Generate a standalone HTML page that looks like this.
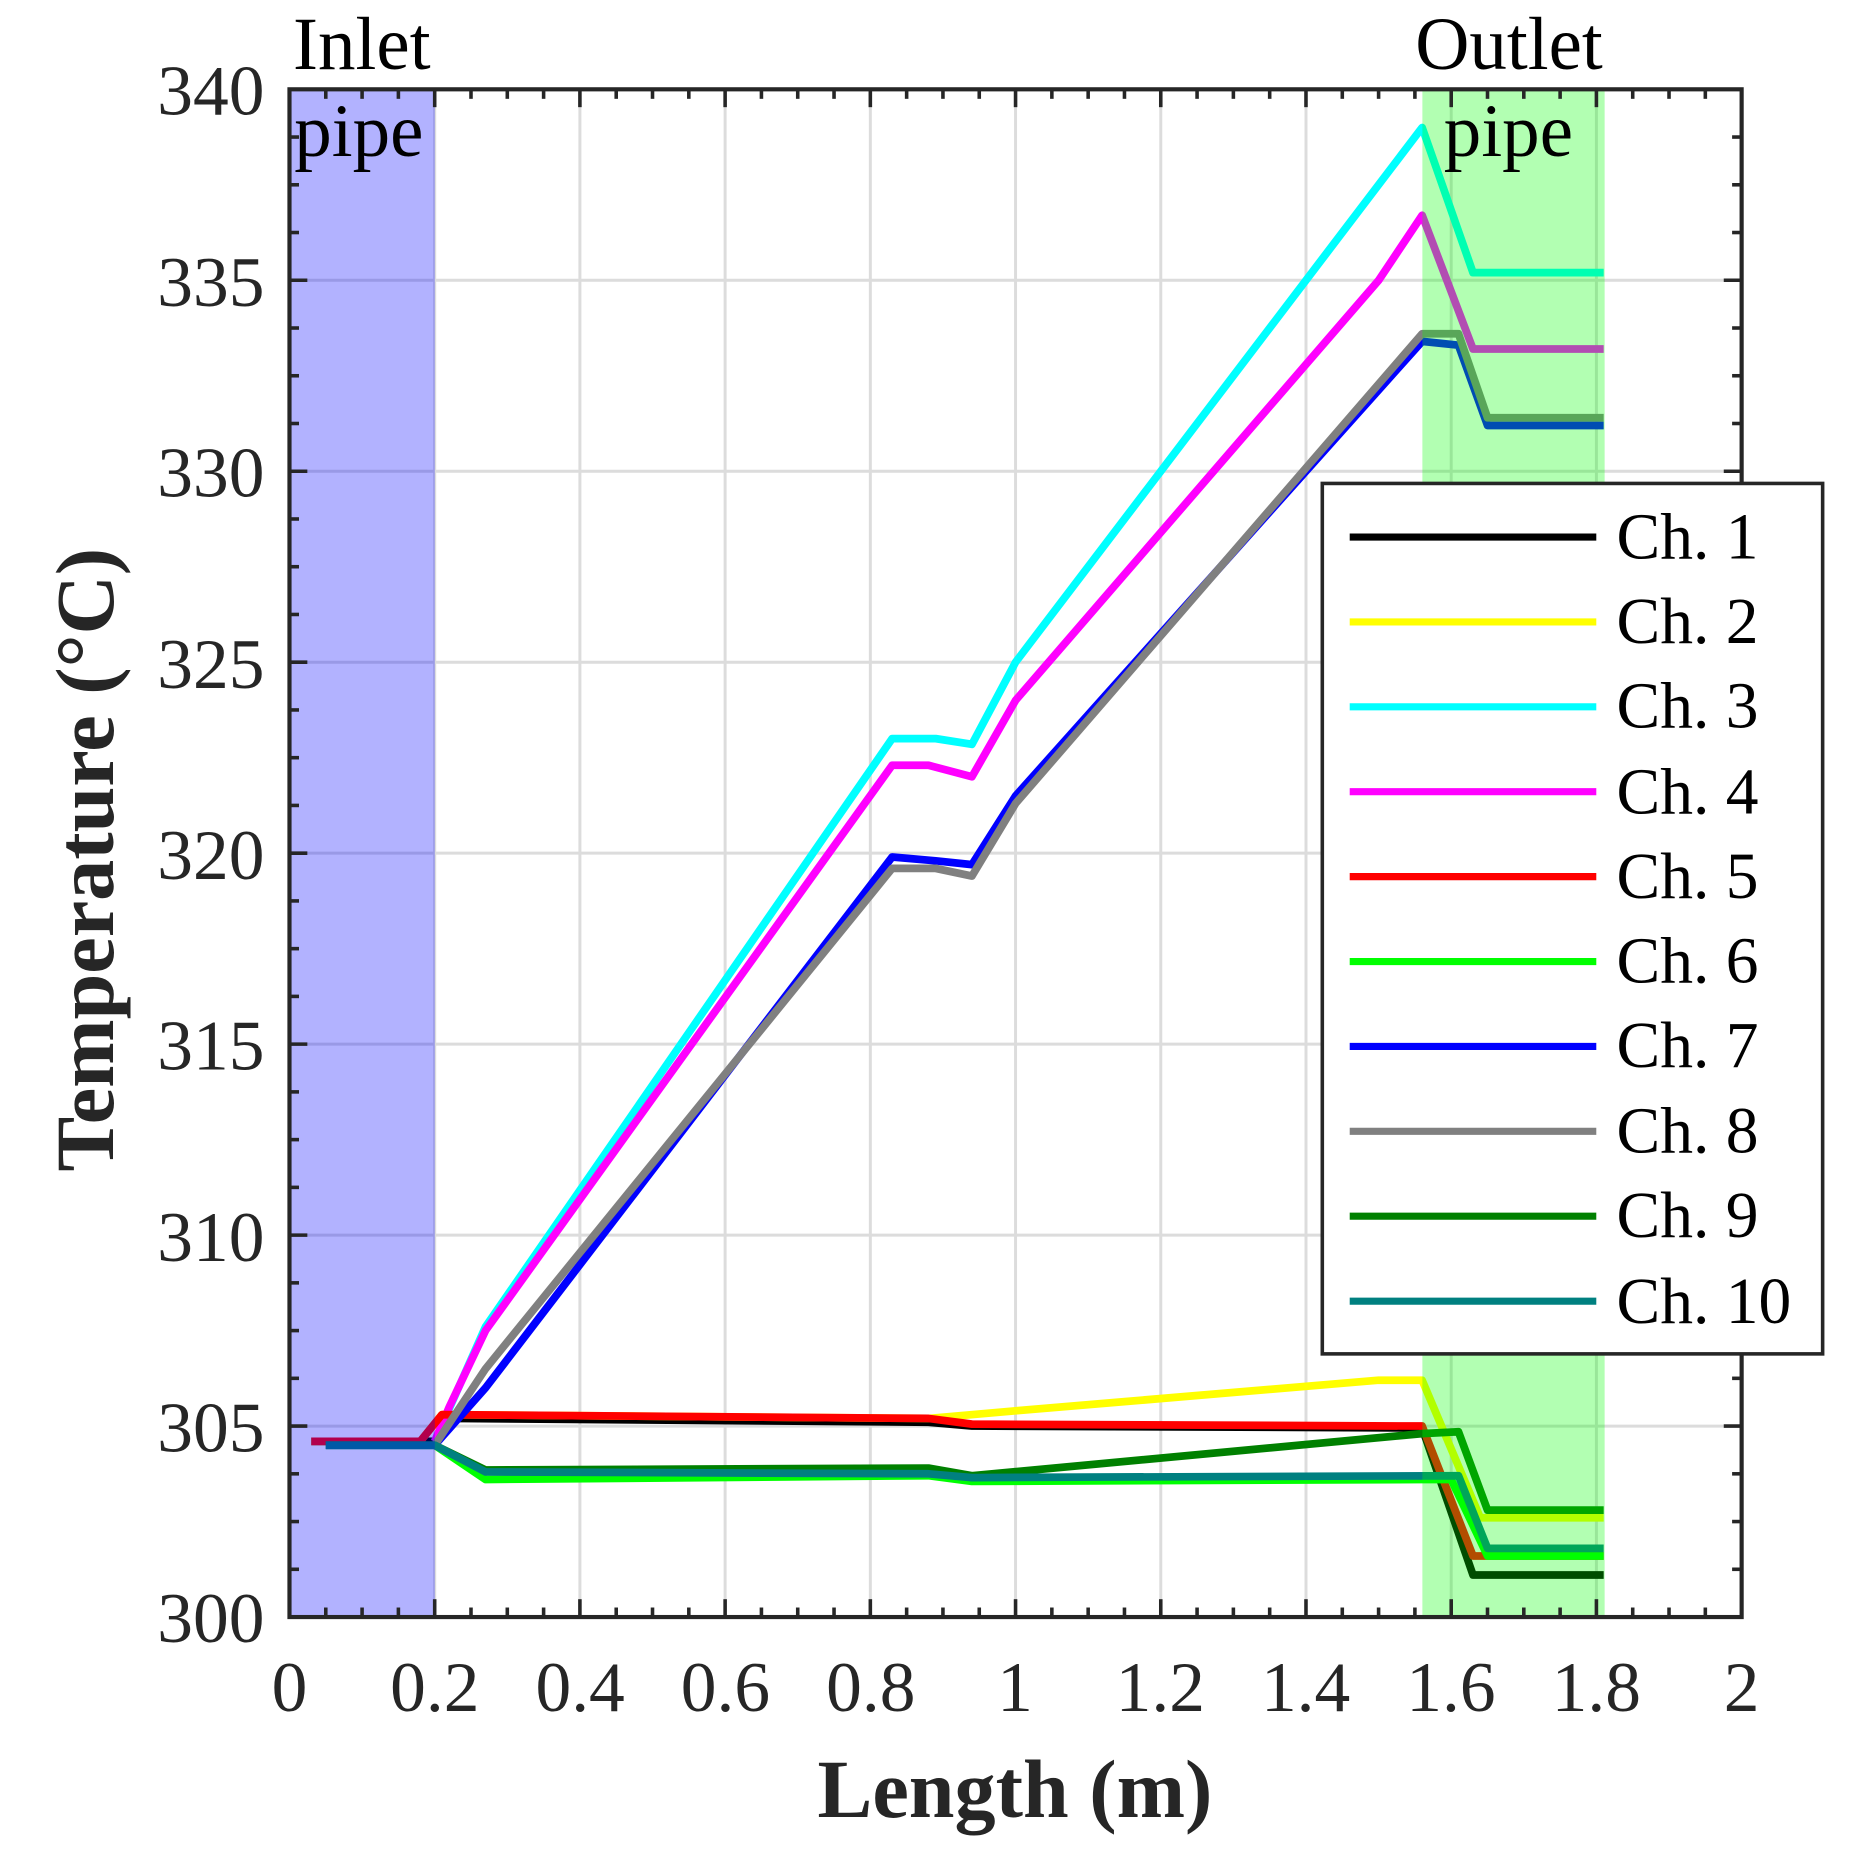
<!DOCTYPE html>
<html><head><meta charset="utf-8"><style>
html,body{margin:0;padding:0;background:#fff;}
svg{display:block;}
text{font-family:"Liberation Serif","Times New Roman",serif;fill:#262626;}
</style></head><body>
<svg id="s" width="1866" height="1849" viewBox="0 0 1566.4 1552.8" preserveAspectRatio="none" xmlns="http://www.w3.org/2000/svg">
<rect x="0" y="0" width="1570" height="1560" fill="#fff"/>
<g id="grid" stroke="#dcdcdc" stroke-width="2.5"></g>
<g id="lines" fill="none" stroke-width="6.5" stroke-linejoin="round"></g>
<rect x="243" y="75" width="122" height="1283" fill="rgb(0,0,255)" fill-opacity="0.3"/>
<rect x="1194" y="75" width="153" height="1283" fill="rgb(0,255,0)" fill-opacity="0.3"/>
<g id="ticks" stroke="#262626" stroke-width="3"></g>
<rect x="243" y="75" width="1219" height="1283" fill="none" stroke="#262626" stroke-width="3.5"/>
<g font-size="60" text-anchor="end">
<text x="222" y="96">340</text><text x="222" y="257">335</text><text x="222" y="417">330</text><text x="222" y="578">325</text><text x="222" y="738">320</text><text x="222" y="898">315</text><text x="222" y="1059">310</text><text x="222" y="1219">305</text><text x="222" y="1379">300</text>
</g>
<g font-size="60" text-anchor="middle">
<text x="243" y="1437">0</text><text x="365" y="1437">0.2</text><text x="487" y="1437">0.4</text><text x="609" y="1437">0.6</text><text x="731" y="1437">0.8</text><text x="852" y="1437">1</text><text x="974" y="1437">1.2</text><text x="1096" y="1437">1.4</text><text x="1218" y="1437">1.6</text><text x="1340" y="1437">1.8</text><text x="1462" y="1437">2</text>
</g>
<text x="852" y="1526" font-size="69" font-weight="bold" text-anchor="middle">Length (m)</text>
<text transform="translate(95,722) rotate(-90)" font-size="69" font-weight="bold" text-anchor="middle">Temperature (°C)</text>
<g font-size="63" style="fill:#000">
<text x="246" y="58" style="fill:#000">Inlet</text>
<text x="247" y="131" style="fill:#000">pipe</text>
<text x="1188" y="58" style="fill:#000">Outlet</text>
<text x="1212" y="131" style="fill:#000">pipe</text>
</g>
<rect x="1110" y="406" width="420" height="731" fill="#fff" stroke="#262626" stroke-width="3"/>
<g id="leg" stroke-width="6"></g>
<g font-size="55" style="fill:#000">
<text x="1357" y="469" style="fill:#000">Ch. 1</text>
<text x="1357" y="540" style="fill:#000">Ch. 2</text>
<text x="1357" y="611" style="fill:#000">Ch. 3</text>
<text x="1357" y="683" style="fill:#000">Ch. 4</text>
<text x="1357" y="754" style="fill:#000">Ch. 5</text>
<text x="1357" y="825" style="fill:#000">Ch. 6</text>
<text x="1357" y="896" style="fill:#000">Ch. 7</text>
<text x="1357" y="968" style="fill:#000">Ch. 8</text>
<text x="1357" y="1039" style="fill:#000">Ch. 9</text>
<text x="1357" y="1111" style="fill:#000">Ch. 10</text>
</g>
</svg>
<script>
var NS="http://www.w3.org/2000/svg";
function X(v){return 243+v*609.5;}function Y(t){return 1358-(t-300)*32.075;}
function el(p,tag,a){var e=document.createElementNS(NS,tag);for(var k in a)e.setAttribute(k,a[k]);p.appendChild(e);return e;}
var g=document.getElementById('grid'),tk=document.getElementById('ticks');
for(var i=1;i<10;i++){el(g,'line',{x1:X(i*0.2),x2:X(i*0.2),y1:75,y2:1358});}
for(var t=305;t<340;t+=5){el(g,'line',{x1:243,x2:1462,y1:Y(t),y2:Y(t)});}
for(var i=1;i<40;i++){var x=X(i*0.05),L=(i%4==0)?15:8;el(tk,'line',{x1:x,x2:x,y1:1358,y2:1358-L});el(tk,'line',{x1:x,x2:x,y1:75,y2:75+L});}
for(var i=1;i<32;i++){var y=Y(300+i*1.25),L=(i%4==0)?15:8;el(tk,'line',{x1:243,x2:243+L,y1:y,y2:y});el(tk,'line',{x1:1462,x2:1462-L,y1:y,y2:y});}
var S=[
['#000',[[0.03,304.6],[0.2,304.6],[0.22,305.2],[0.88,305.1],[0.94,305.0],[1.56,304.95],[1.63,301.1],[1.81,301.1]]],
['#ffff00',[[0.03,304.6],[0.18,304.6],[0.21,305.3],[0.88,305.2],[1.0,305.4],[1.5,306.2],[1.56,306.2],[1.64,302.6],[1.81,302.6]]],
['#00ffff',[[0.2,304.6],[0.27,307.6],[0.83,323],[0.89,323],[0.94,322.85],[1.0,325],[1.56,339],[1.63,335.2],[1.81,335.2]]],
['#ff00ff',[[0.2,304.6],[0.22,305.5],[0.27,307.5],[0.83,322.3],[0.88,322.3],[0.94,322],[1.0,324],[1.5,335],[1.56,336.7],[1.63,333.2],[1.81,333.2]]],
['#ff0000',[[0.03,304.6],[0.18,304.6],[0.21,305.3],[0.88,305.2],[0.94,305.05],[1.56,305],[1.63,301.6],[1.81,301.6]]],
['#00ff00',[[0.05,304.5],[0.2,304.5],[0.27,303.6],[0.88,303.7],[0.94,303.55],[1.56,303.6],[1.6,303.6],[1.65,301.6],[1.81,301.6]]],
['#0000ff',[[0.2,304.5],[0.27,306],[0.83,319.9],[0.89,319.8],[0.94,319.7],[1.0,321.5],[1.56,333.4],[1.61,333.3],[1.65,331.2],[1.81,331.2]]],
['#808080',[[0.2,304.5],[0.27,306.5],[0.83,319.6],[0.89,319.6],[0.94,319.4],[1.0,321.3],[1.56,333.6],[1.61,333.6],[1.65,331.4],[1.81,331.4]]],
['#008000',[[0.05,304.5],[0.2,304.5],[0.27,303.85],[0.88,303.9],[0.94,303.7],[1.56,304.8],[1.61,304.85],[1.65,302.8],[1.81,302.8]]],
['#008080',[[0.05,304.5],[0.2,304.5],[0.27,303.8],[0.88,303.75],[0.94,303.65],[1.61,303.7],[1.65,301.8],[1.81,301.8]]]
];
var ln=document.getElementById('lines'),lg=document.getElementById('leg');
S.forEach(function(s,i){el(ln,'polyline',{stroke:s[0],points:s[1].map(function(p){return X(p[0]).toFixed(1)+','+Y(p[1]).toFixed(1);}).join(' ')});
var y=451+i*71.3;el(lg,'line',{x1:1133,x2:1340,y1:y,y2:y,stroke:s[0]});});
</script>
</body></html>
